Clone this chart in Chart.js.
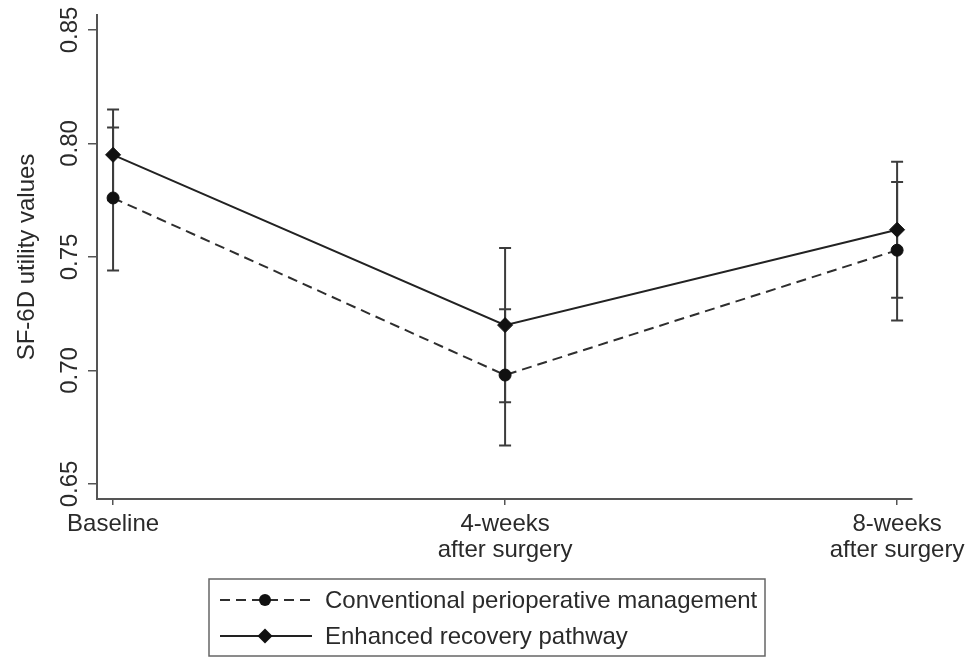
<!DOCTYPE html>
<html>
<head>
<meta charset="utf-8">
<script src="https://cdn.jsdelivr.net/npm/chart.js"></script>
<style>
  html, body { margin: 0; padding: 0; background: #fff; }
  canvas { display: block; }
</style>
</head>
<body>
<canvas id="c" width="967" height="659"></canvas>
<script>
// Time points on the x axis
const categories = ['Baseline', ['4-weeks', 'after surgery'], ['8-weeks', 'after surgery']];

// Series names
const seriesNames = ['Conventional perioperative management', 'Enhanced recovery pathway'];

// Mean SF-6D utility values and 95% CI limits
const conventionalMean = [0.776, 0.698, 0.753];
const conventionalLow  = [0.744, 0.667, 0.722];
const conventionalHigh = [0.807, 0.727, 0.783];

const enhancedMean = [0.795, 0.720, 0.762];
const enhancedLow  = [0.775, 0.686, 0.732];
const enhancedHigh = [0.815, 0.754, 0.792];

// Y axis ticks and their labels
const yTicks = [0.65, 0.70, 0.75, 0.80, 0.85];
const yTickLabels = ['0.65', '0.70', '0.75', '0.80', '0.85'];

const FONT = '"Liberation Sans", Arial, Helvetica, sans-serif';
const FONT_SIZE = 24;
const INK = '#2a2a2a';
const AXIS = '#555';

// Whisker (CI) plugin: vertical bar with caps, drawn under the lines and markers
const ciWhiskers = {
  id: 'ciWhiskers',
  beforeDatasetsDraw(chart) {
    const { ctx, scales: { x, y } } = chart;
    ctx.save();
    ctx.strokeStyle = '#3c3c3c';
    ctx.lineWidth = 2;
    chart.data.datasets.forEach(ds => {
      ds.ciLow.forEach((lo, i) => {
        const px = x.getPixelForValue(i);
        const yl = y.getPixelForValue(lo);
        const yh = y.getPixelForValue(ds.ciHigh[i]);
        const cap = 6;
        ctx.beginPath();
        ctx.moveTo(px, yl); ctx.lineTo(px, yh);
        ctx.moveTo(px - cap, yl); ctx.lineTo(px + cap, yl);
        ctx.moveTo(px - cap, yh); ctx.lineTo(px + cap, yh);
        ctx.stroke();
      });
    });
    ctx.restore();
  }
};

// Rotated y tick labels (read bottom to top)
const yLabels = {
  id: 'yLabels',
  afterDraw(chart) {
    const { ctx, scales: { y } } = chart;
    ctx.save();
    ctx.fillStyle = INK;
    ctx.font = FONT_SIZE + 'px ' + FONT;
    ctx.textAlign = 'center';
    ctx.textBaseline = 'middle';
    y.ticks.forEach((t, i) => {
      const py = y.getPixelForValue(t.value);
      ctx.save();
      ctx.translate(70, py);
      ctx.rotate(-Math.PI / 2);
      ctx.fillText(yTickLabels[i], 0, 0);
      ctx.restore();
    });
    ctx.restore();
  }
};

function drawMarker(ctx, style, cx, cy, r) {
  ctx.beginPath();
  if (style === 'rectRot') {
    ctx.moveTo(cx, cy - r); ctx.lineTo(cx + r, cy);
    ctx.lineTo(cx, cy + r); ctx.lineTo(cx - r, cy);
    ctx.closePath();
  } else {
    ctx.arc(cx, cy, r, 0, Math.PI * 2);
  }
  ctx.fill();
}

// Boxed legend below the plot, one row per series
const boxedLegend = {
  id: 'boxedLegend',
  afterDraw(chart) {
    const { ctx } = chart;
    const box = { left: 209, top: 579, right: 765, bottom: 656 };
    const rows = [600, 636];
    ctx.save();
    ctx.strokeStyle = '#666';
    ctx.lineWidth = 1.5;
    ctx.strokeRect(box.left, box.top, box.right - box.left, box.bottom - box.top);
    chart.data.datasets.forEach((ds, i) => {
      const ry = rows[i];
      ctx.strokeStyle = ds.borderColor;
      ctx.lineWidth = ds.borderWidth;
      ctx.setLineDash(ds.borderDash || []);
      ctx.beginPath();
      ctx.moveTo(220, ry); ctx.lineTo(312, ry);
      ctx.stroke();
      ctx.setLineDash([]);
      ctx.fillStyle = ds.pointBackgroundColor;
      drawMarker(ctx, ds.pointStyle, 265, ry, ds.pointRadius);
      ctx.fillStyle = INK;
      ctx.font = FONT_SIZE + 'px ' + FONT;
      ctx.textAlign = 'left';
      ctx.textBaseline = 'middle';
      ctx.fillText(ds.label, 325, ry + 1);
    });
    ctx.restore();
  }
};

const toPoints = arr => arr.map((v, i) => ({ x: i, y: v }));

new Chart(document.getElementById('c'), {
  type: 'line',
  data: {
    datasets: [
      {
        label: seriesNames[0],
        data: toPoints(conventionalMean),
        ciLow: conventionalLow,
        ciHigh: conventionalHigh,
        borderColor: '#2e2e2e',
        borderWidth: 2,
        borderDash: [10, 6],
        pointStyle: 'circle',
        pointRadius: 6,
        pointBackgroundColor: '#111',
        pointBorderColor: '#111',
        pointBorderWidth: 1,
        fill: false,
        tension: 0
      },
      {
        label: seriesNames[1],
        data: toPoints(enhancedMean),
        ciLow: enhancedLow,
        ciHigh: enhancedHigh,
        borderColor: '#222',
        borderWidth: 2,
        borderDash: [],
        pointStyle: 'rectRot',
        pointRadius: 7.5,
        pointBackgroundColor: '#111',
        pointBorderColor: '#111',
        pointBorderWidth: 1,
        fill: false,
        tension: 0
      }
    ]
  },
  options: {
    responsive: false,
    animation: false,
    layout: { padding: { left: 0, right: 55, top: 15, bottom: 85 } },
    plugins: { legend: { display: false }, tooltip: { enabled: false } },
    scales: {
      x: {
        type: 'linear',
        min: -0.041,
        max: 2.038,
        afterBuildTicks(s) { s.ticks = categories.map((_, i) => ({ value: i })); },
        afterFit(s) { s.height = 75; s.paddingLeft = 0; s.paddingRight = 0; },
        border: { display: true, color: AXIS, width: 2 },
        grid: { display: true, drawOnChartArea: false, drawTicks: true, tickLength: 6, color: AXIS, lineWidth: 1.5 },
        ticks: {
          callback: v => categories[v],
          font: { family: FONT, size: FONT_SIZE, lineHeight: 1.1 },
          color: INK,
          padding: 6,
          minRotation: 0,
          maxRotation: 0,
          autoSkip: false
        }
      },
      y: {
        type: 'linear',
        min: 0.6434,
        max: 0.8566,
        afterBuildTicks(s) { s.ticks = yTicks.map(v => ({ value: v })); },
        afterFit(s) { s.width = 97; s.paddingTop = 0; s.paddingBottom = 0; },
        border: { display: true, color: AXIS, width: 2 },
        grid: { display: true, drawOnChartArea: false, drawTicks: true, tickLength: 9, color: AXIS, lineWidth: 1.5 },
        ticks: { color: 'rgba(0,0,0,0)', font: { family: FONT, size: FONT_SIZE } },
        title: {
          display: true,
          text: 'SF-6D utility values',
          font: { family: FONT, size: FONT_SIZE },
          color: INK,
          padding: { top: 13, bottom: 0 }
        }
      }
    }
  },
  plugins: [ciWhiskers, yLabels, boxedLegend]
});
</script>
</body>
</html>
